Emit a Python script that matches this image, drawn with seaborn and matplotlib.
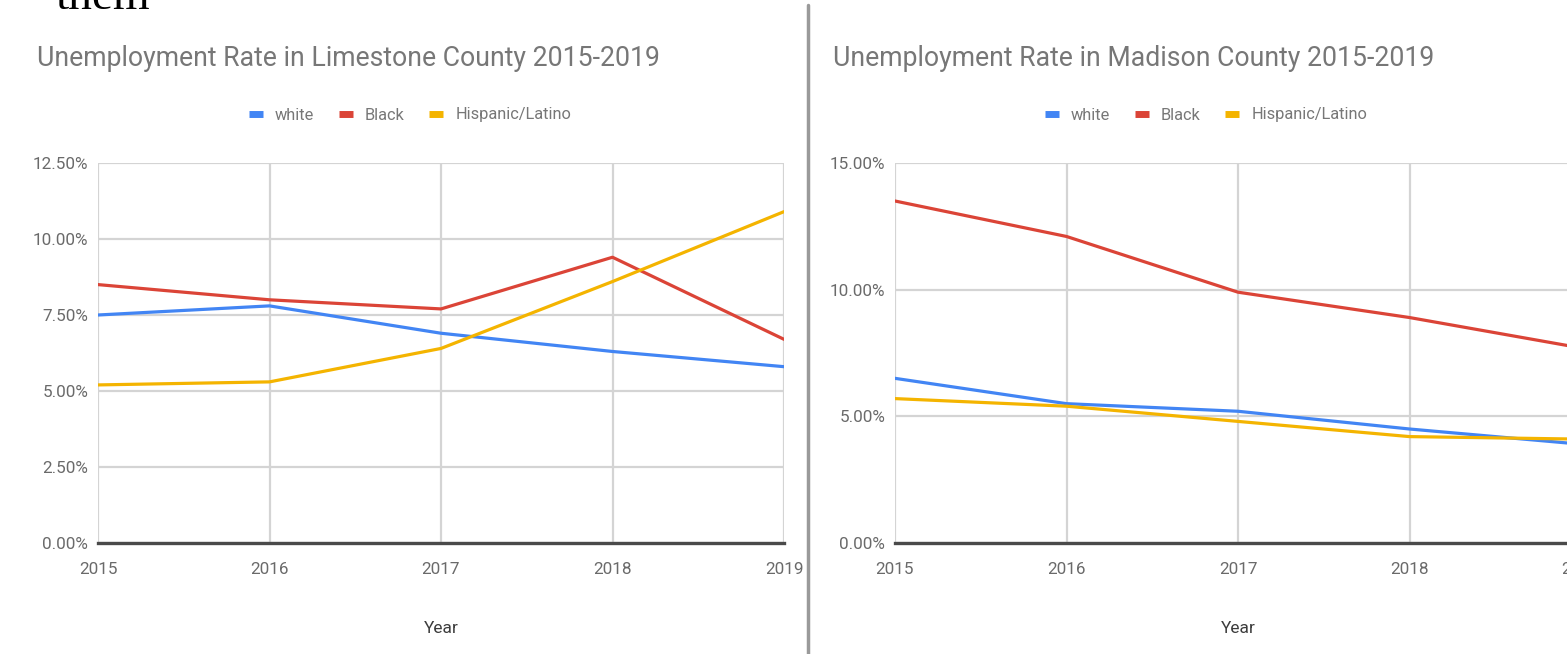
import matplotlib
matplotlib.use("Agg")
import matplotlib.pyplot as plt
from matplotlib.lines import Line2D
import seaborn as sns
import pandas as pd

# ---- data ----
years = [2015, 2016, 2017, 2018, 2019]
groups = ["white", "Black", "Hispanic/Latino"]
limestone_white = [7.5, 7.8, 6.9, 6.3, 5.8]
limestone_black = [8.5, 8.0, 7.7, 9.4, 6.7]
limestone_hispanic = [5.2, 5.3, 6.4, 8.6, 10.9]
madison_white = [6.5, 5.5, 5.2, 4.5, 3.9]
madison_black = [13.5, 12.1, 9.9, 8.9, 7.7]
madison_hispanic = [5.7, 5.4, 4.8, 4.2, 4.1]
limestone_yticks = [0, 2.5, 5.0, 7.5, 10.0, 12.5]
madison_yticks = [0, 5.0, 10.0, 15.0]
title_left = "Unemployment Rate in Limestone County 2015-2019"
title_right = "Unemployment Rate in Madison County 2015-2019"

colors = {"white": "#4285F4", "Black": "#DB4437", "Hispanic/Latino": "#F4B400"}


def long_df(w, b, h):
    rows = []
    for g, vals in zip(groups, [w, b, h]):
        for y, v in zip(years, vals):
            rows.append({"Year": y, "group": g, "rate": v})
    return pd.DataFrame(rows)


sns.set_style("white")
FONT = ["Roboto", "DejaVu Sans"]
plt.rcParams["font.family"] = FONT

W, H = 1567, 654
fig = plt.figure(figsize=(W / 100, H / 100), dpi=100)

axL = fig.add_axes([98 / W, 1 - 543 / H, 686 / W, 380 / H])
axR = fig.add_axes([895 / W, 1 - 543 / H, 686 / W, 380 / H])

specs = [
    (axL, long_df(limestone_white, limestone_black, limestone_hispanic), limestone_yticks, title_left, 37, 410),
    (axR, long_df(madison_white, madison_black, madison_hispanic), madison_yticks, title_right, 833, 1206),
]

for ax, df, yt, title, tx, lx in specs:
    sns.lineplot(data=df, x="Year", y="rate", hue="group", hue_order=groups,
                 palette=colors, linewidth=2.3, ax=ax, legend=False, zorder=3)
    ax.set_xlim(years[0], years[-1])
    ax.set_ylim(yt[0], yt[-1])
    ax.set_xticks(years)
    ax.set_xticklabels([str(y) for y in years])
    ax.set_yticks(yt)
    ax.set_yticklabels([f"{v:.2f}%" for v in yt])
    ax.grid(True, color="#d4d4d4", linewidth=1.6, zorder=0)
    for s in ["left", "right", "top"]:
        ax.spines[s].set_visible(False)
    ax.spines["bottom"].set_color("#4a4a4a")
    ax.spines["bottom"].set_linewidth(2.4)
    ax.spines["bottom"].set_zorder(4)
    ax.tick_params(axis="both", length=0, labelsize=12.3, colors="#6a6a6a")
    ax.tick_params(axis="y", pad=7)
    ax.tick_params(axis="x", pad=13.5)
    ax.set_ylabel("")
    ax.set_xlabel("Year", fontsize=12.5, color="#3c3c3c", labelpad=32)
    fig.text(tx / W, 1 - 58 / H, title, fontsize=19.2, color="#777777", ha="left", va="center")
    handles = [Line2D([], [], color=colors[g], linewidth=5, solid_capstyle="butt") for g in groups]
    fig.legend(handles, groups, loc="center", bbox_to_anchor=(lx / W, 1 - 115 / H),
               bbox_transform=fig.transFigure, ncol=3, frameon=False, fontsize=11.8,
               handlelength=0.85, handletextpad=0.75, columnspacing=1.5, labelcolor="#777777")

# divider line between the two charts
fig.add_artist(Line2D([808 / W, 808 / W], [0, 1 - 5 / H], color="#9a9a9a", linewidth=2.5,
                      transform=fig.transFigure))

# cut-off text at the top (as in the source screenshot)
fig.text(55 / W, 1 - 9 / H, "them", fontsize=34, color="black", ha="left", va="baseline",
         family=["Liberation Serif", "DejaVu Serif"])

fig.savefig("out.png", dpi=100)
